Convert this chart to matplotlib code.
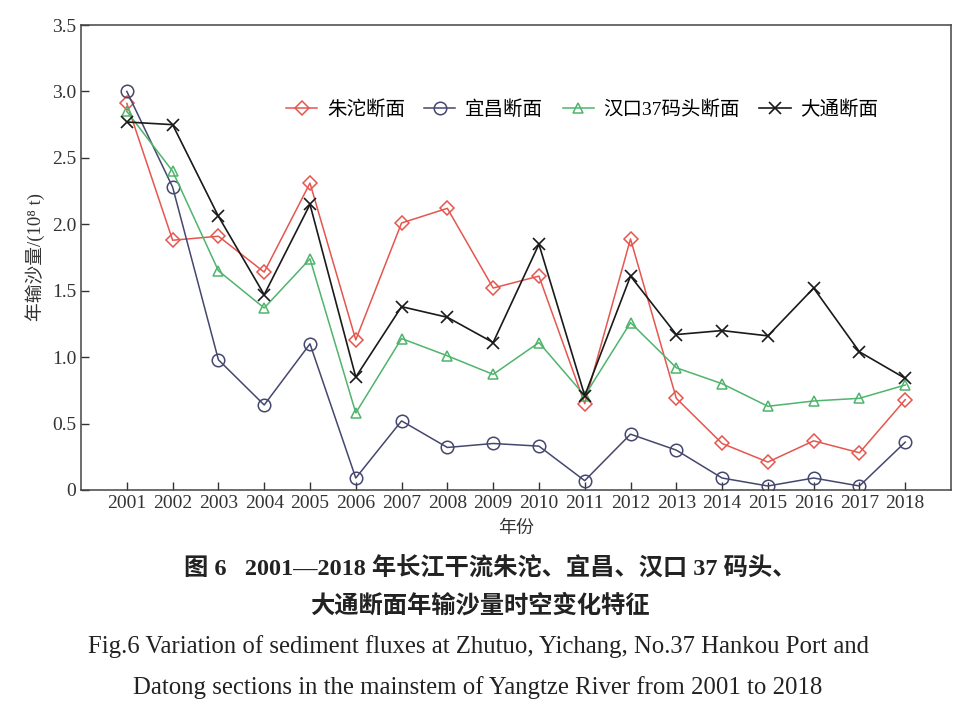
import matplotlib
matplotlib.use("Agg")
import matplotlib.pyplot as plt

plt.rcParams['font.family'] = ['Liberation Serif', 'Noto Sans CJK SC', 'DejaVu Serif']

# data
years = list(range(2001, 2019))
zhutuo = [2.91, 1.88, 1.91, 1.64, 2.31, 1.13, 2.01, 2.12, 1.52, 1.61,
          0.65, 1.89, 0.69, 0.35, 0.21, 0.37, 0.28, 0.68]
yichang = [3.00, 2.28, 0.98, 0.64, 1.10, 0.09, 0.52, 0.32, 0.35, 0.33,
           0.07, 0.42, 0.30, 0.09, 0.03, 0.09, 0.03, 0.36]
hankou = [2.85, 2.40, 1.65, 1.37, 1.74, 0.58, 1.14, 1.01, 0.87, 1.11,
          0.71, 1.26, 0.92, 0.80, 0.63, 0.67, 0.69, 0.79]
datong = [2.77, 2.75, 2.06, 1.47, 2.15, 0.85, 1.38, 1.30, 1.11, 1.85,
          0.71, 1.61, 1.17, 1.20, 1.16, 1.52, 1.04, 0.84]
names = ["朱沱断面", "宜昌断面", "汉口37码头断面", "大通断面"]

fig = plt.figure(figsize=(9.66, 7.13), dpi=100)
ax = fig.add_axes([0.0839, 0.3128, 0.9006, 0.6521])

ax.plot(years, zhutuo, color="#e5564f", marker="D", markersize=7, mfc="none",
        mew=1.1, lw=1.1, label=names[0])
ax.plot(years, yichang, color="#45476e", marker="o", markersize=9, mfc="none",
        mew=1.1, lw=1.1, label=names[1])
ax.plot(years, hankou, color="#4fb46c", marker="^", markersize=7, mfc="none",
        mew=1.1, lw=1.1, label=names[2])
ax.plot(years, datong, color="#1a1a1a", marker="x", markersize=8,
        mew=1.2, lw=1.2, label=names[3])

ax.set_xlim(2000, 2019)
ax.set_ylim(0, 3.5)
ax.set_xticks(years)
ax.set_xticklabels([str(y) for y in years])
ax.set_yticks([0, 0.5, 1.0, 1.5, 2.0, 2.5, 3.0, 3.5])
ax.set_yticklabels(["0", "0.5", "1.0", "1.5", "2.0", "2.5", "3.0", "3.5"])
ax.tick_params(direction="in", labelsize=14, length=6, width=1, colors="#333333")
for s in ax.spines.values():
    s.set_color("#444444")
    s.set_linewidth(1.1)

ax.set_ylabel("年输沙量/(10⁸ t)", fontsize=13.5, color="#333333", labelpad=5)
ax.set_xlabel("年份", fontsize=13, color="#333333", labelpad=6)

ax.legend(loc="center", bbox_to_anchor=(0.576, 0.818), ncol=4, frameon=False,
          fontsize=14, handlelength=1.6, columnspacing=1.0, handletextpad=0.5)

fig.text(0.507, 0.202, "图 6   2001—2018 年长江干流朱沱、宜昌、汉口 37 码头、",
         ha="center", va="center", fontsize=17.5, fontweight="bold", color="#222222")
fig.text(0.497, 0.151, "大通断面年输沙量时空变化特征",
         ha="center", va="center", fontsize=17.5, fontweight="bold", color="#222222")
fig.text(0.495, 0.093, "Fig.6 Variation of sediment fluxes at Zhutuo, Yichang, No.37 Hankou Port and",
         ha="center", va="center", fontsize=17.8, color="#222222")
fig.text(0.495, 0.036, "Datong sections in the mainstem of Yangtze River from 2001 to 2018",
         ha="center", va="center", fontsize=17.8, color="#222222")

fig.savefig("out.png", dpi=100, facecolor="white")
